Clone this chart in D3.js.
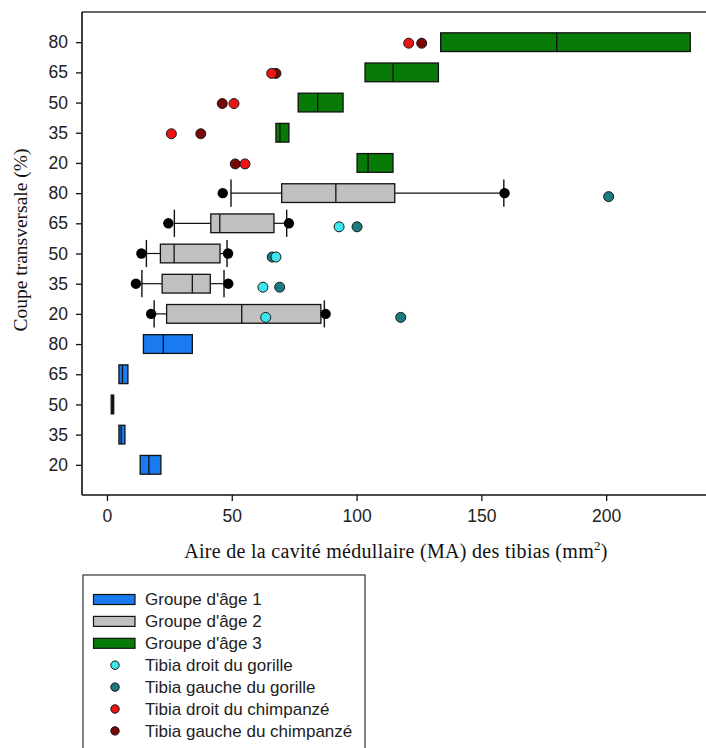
<!DOCTYPE html>
<html>
<head>
<meta charset="utf-8">
<script src="https://cdn.jsdelivr.net/npm/d3@7"></script>
<style>
  html, body { margin: 0; padding: 0; background: #fff; }
  svg { display: block; }
</style>
</head>
<body>
<svg id="chart" width="706" height="748"></svg>
<script>
// Cross-section levels (%) repeated for each age group, bottom to top
const sections = [20, 35, 50, 65, 80];
const groups = [1, 2, 3];
const tickLabelsX = [0, 50, 100, 150, 200];

// Age group 1: box quartiles per section (mm²)
const g1Q1  = [13.3, 4.8, 1.7, 4.8, 14.6];
const g1Med = [16.8, 5.7, 2.2, 6.2, 22.6];
const g1Q3  = [21.6, 7.2, 2.7, 8.4, 34.2];

// Age group 2: quartiles, whisker caps and extreme points
const g2Q1  = [23.9, 22.1, 21.4, 41.6, 70.0];
const g2Med = [54.0, 34.2, 26.9, 45.2, 91.7];
const g2Q3  = [85.7, 41.4, 45.3, 66.9, 115.3];
const g2WLo = [18.9, 14.0, 15.8, 27.0, 49.7];
const g2WHi = [87.1, 46.9, 48.1, 72.0, 159.0];
const g2OutLo = [17.7, 11.6, 13.8, 24.6, 46.4];
const g2OutHi = [87.6, 48.6, 48.5, 72.9, 159.3];

// Age group 3: box quartiles
const g3Q1  = [100.2, 67.7, 76.6, 103.4, 133.7];
const g3Med = [104.6, 69.3, 84.4, 114.6, 180.2];
const g3Q3  = [114.6, 72.9, 94.6, 132.8, 233.7];

// Individual tibiae (plotted on the age group 2 rows for gorilla, group 3 rows for chimpanzee)
const gorillaRight = [63.6, 62.5, 67.7, 93.0, null];
const gorillaLeft  = [117.7, 69.2, 66.2, 100.2, 201.0];
const chimpRight   = [55.3, 25.8, 50.9, 66.0, 120.9];
const chimpLeft    = [51.4, 37.6, 46.2, 67.7, 126.1];

const colors = {
  g1: "#1a7bf0", g2: "#c0c0c0", g3: "#077a07",
  gorR: "#3ee6ee", gorL: "#1b7b80", chR: "#ee1414", chL: "#780808"
};

const svg = d3.select("#chart");
const plot = { left: 82, top: 12, right: 706, bottom: 495 };

const keys = [];
groups.forEach(g => sections.forEach(s => keys.push(g + "-" + s)));

const x = d3.scaleLinear().domain([-10, 240]).range([plot.left, plot.right]);
const y = d3.scalePoint().domain(keys).range([plot.bottom, plot.top]).padding(1);
const step = y.step();
const boxH = step * 0.62;
const capH = step * 0.9;

// Frame: top line
svg.append("line")
  .attr("x1", plot.left).attr("x2", plot.right)
  .attr("y1", plot.top).attr("y2", plot.top)
  .attr("stroke", "#333").attr("stroke-width", 1.6);

// Axes
const fontSans = "'Liberation Sans', Arial, sans-serif";
const fontSerif = "'Liberation Serif', 'Times New Roman', serif";

const yAxis = d3.axisLeft(y).tickSize(6).tickPadding(8)
  .tickFormat(k => k.split("-")[1]);
const gy = svg.append("g").attr("transform", `translate(${plot.left},0)`).call(yAxis);
gy.select(".domain").attr("d", `M0,${plot.top}V${plot.bottom}`).attr("stroke", "#111").attr("stroke-width", 1.6);
gy.selectAll(".tick line").attr("stroke", "#111").attr("stroke-width", 1.3);
gy.selectAll(".tick text").attr("font-family", fontSans).attr("font-size", 17.5).attr("fill", "#222");

const xAxis = d3.axisBottom(x).tickValues(tickLabelsX).tickSize(6).tickPadding(9);
const gx = svg.append("g").attr("transform", `translate(0,${plot.bottom})`).call(xAxis);
gx.select(".domain").attr("d", `M${plot.left},0H${plot.right}`).attr("stroke", "#111").attr("stroke-width", 1.6);
gx.selectAll(".tick line").attr("stroke", "#111").attr("stroke-width", 1.3);
gx.selectAll(".tick text").attr("font-family", fontSans).attr("font-size", 17.5).attr("fill", "#222");

// Axis titles
const xt = svg.append("text")
  .attr("x", 396).attr("y", 558)
  .attr("text-anchor", "middle")
  .attr("font-family", fontSerif).attr("font-size", 20).attr("fill", "#111")
  .attr("letter-spacing", 0.3);
xt.append("tspan").text("Aire de la cavité médullaire (MA) des tibias (mm");
xt.append("tspan").attr("dy", -8).attr("font-size", 13).text("2");
xt.append("tspan").attr("dy", 8).text(")");

svg.append("text")
  .attr("transform", "translate(27,240) rotate(-90)")
  .attr("text-anchor", "middle")
  .attr("font-family", fontSerif).attr("font-size", 19.5).attr("fill", "#111")
  .text("Coupe transversale (%)");

// Boxes
function drawBoxes(group, q1, med, q3, fill) {
  const rows = sections.map((s, i) => ({ key: group + "-" + s, q1: q1[i], med: med[i], q3: q3[i] }));
  const g = svg.append("g");
  g.selectAll("rect").data(rows).join("rect")
    .attr("x", d => x(d.q1)).attr("width", d => x(d.q3) - x(d.q1))
    .attr("y", d => y(d.key) - boxH / 2).attr("height", boxH)
    .attr("fill", fill).attr("stroke", "#111").attr("stroke-width", 1.3);
  g.selectAll("line.med").data(rows).join("line").attr("class", "med")
    .attr("x1", d => x(d.med)).attr("x2", d => x(d.med))
    .attr("y1", d => y(d.key) - boxH / 2).attr("y2", d => y(d.key) + boxH / 2)
    .attr("stroke", "#111").attr("stroke-width", 1.3);
}

// Whiskers for age group 2
const g2rows = sections.map((s, i) => ({
  key: "2-" + s, q1: g2Q1[i], q3: g2Q3[i], lo: g2WLo[i], hi: g2WHi[i],
  oLo: g2OutLo[i], oHi: g2OutHi[i]
}));
const wg = svg.append("g");
wg.selectAll("line.wl").data(g2rows).join("line")
  .attr("x1", d => x(d.lo)).attr("x2", d => x(d.q1))
  .attr("y1", d => y(d.key)).attr("y2", d => y(d.key))
  .attr("stroke", "#111").attr("stroke-width", 1.2);
wg.selectAll("line.wh").data(g2rows).join("line")
  .attr("x1", d => x(d.q3)).attr("x2", d => x(d.hi))
  .attr("y1", d => y(d.key)).attr("y2", d => y(d.key))
  .attr("stroke", "#111").attr("stroke-width", 1.2);
["lo", "hi"].forEach(f => {
  wg.selectAll("line.cap" + f).data(g2rows).join("line")
    .attr("x1", d => x(d[f])).attr("x2", d => x(d[f]))
    .attr("y1", d => y(d.key) - capH / 2).attr("y2", d => y(d.key) + capH / 2)
    .attr("stroke", "#111").attr("stroke-width", 1.4);
});

drawBoxes(1, g1Q1, g1Med, g1Q3, colors.g1);
drawBoxes(2, g2Q1, g2Med, g2Q3, colors.g2);
drawBoxes(3, g3Q1, g3Med, g3Q3, colors.g3);

// Extreme points of group 2
["oLo", "oHi"].forEach(f => {
  svg.append("g").selectAll("circle").data(g2rows).join("circle")
    .attr("cx", d => x(d[f])).attr("cy", d => y(d.key)).attr("r", 5.2)
    .attr("fill", "#000");
});

// Individual tibia points
function drawPoints(group, values, fill, dy) {
  const pts = sections.map((s, i) => ({ key: group + "-" + s, v: values[i] })).filter(d => d.v != null);
  svg.append("g").selectAll("circle").data(pts).join("circle")
    .attr("cx", d => x(d.v)).attr("cy", d => y(d.key) + dy).attr("r", 5)
    .attr("fill", fill).attr("stroke", "#1a1a1a").attr("stroke-width", 1);
}
drawPoints(2, gorillaLeft, colors.gorL, 3.5);
drawPoints(2, gorillaRight, colors.gorR, 3.5);
drawPoints(3, chimpLeft, colors.chL, 1);
drawPoints(3, chimpRight, colors.chR, 1);

// Legend
const legendItems = [
  { type: "box", fill: colors.g1, label: "Groupe d'âge 1" },
  { type: "box", fill: colors.g2, label: "Groupe d'âge 2" },
  { type: "box", fill: colors.g3, label: "Groupe d'âge 3" },
  { type: "dot", fill: colors.gorR, label: "Tibia droit du gorille" },
  { type: "dot", fill: colors.gorL, label: "Tibia gauche du gorille" },
  { type: "dot", fill: colors.chR, label: "Tibia droit du chimpanzé" },
  { type: "dot", fill: colors.chL, label: "Tibia gauche du chimpanzé" }
];
const lg = svg.append("g").attr("transform", "translate(83,575)");
lg.append("rect").attr("x", 0).attr("y", 0).attr("width", 282).attr("height", 200)
  .attr("fill", "none").attr("stroke", "#333").attr("stroke-width", 1.2);
const rows = lg.selectAll("g.item").data(legendItems).join("g")
  .attr("transform", (d, i) => `translate(0,${24.5 + i * 21.9})`);
rows.filter(d => d.type === "box").append("rect")
  .attr("x", 10.5).attr("y", -5).attr("width", 41.5).attr("height", 10)
  .attr("fill", d => d.fill).attr("stroke", "#111").attr("stroke-width", 1.2);
rows.filter(d => d.type === "dot").append("circle")
  .attr("cx", 32).attr("cy", 0).attr("r", 4.2)
  .attr("fill", d => d.fill).attr("stroke", "#111").attr("stroke-width", 1);
rows.append("text").attr("x", 62).attr("y", 0).attr("dy", "0.35em")
  .attr("font-family", fontSans).attr("font-size", 17).attr("fill", "#222")
  .text(d => d.label);
</script>
</body>
</html>
